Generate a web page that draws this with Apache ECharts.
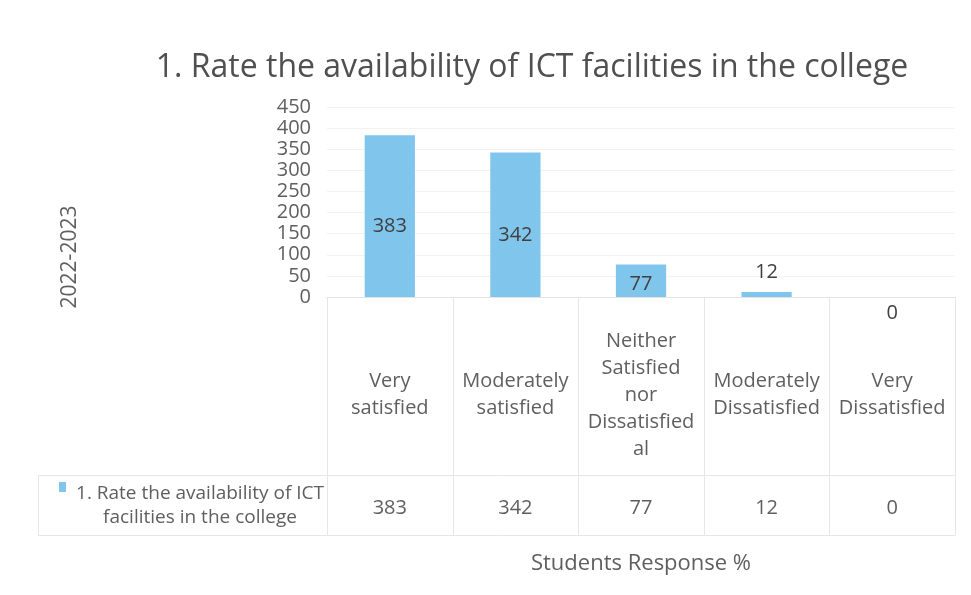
<!DOCTYPE html>
<html><head><meta charset="utf-8">
<script src="https://cdn.jsdelivr.net/npm/echarts@6/dist/echarts.min.js"></script>
<style>html,body{margin:0;padding:0;background:#fff}#c{width:971px;height:595px}</style>
</head><body><div id="c"></div>
<script>
const titleText = '1. Rate the availability of ICT facilities in the college';
const categories = ['Very\nsatisfied', 'Moderately\nsatisfied', 'Neither\nSatisfied\nnor\nDissatisfied\nal', 'Moderately\nDissatisfied', 'Very\nDissatisfied'];
const values = [383, 342, 77, 12, 0];
const seriesName = '1. Rate the availability of ICT\nfacilities in the college';
const yTitle = '2022-2023';
const xTitle = 'Students Response %';
const yMax = 450, yStep = 50;

const FONT = '"Open Sans", Lato, sans-serif';
const TXT = '#5f5f5f';
const BAR = '#80c5ec';
const chart = echarts.init(document.getElementById('c'), null, {renderer: 'canvas'});
const LEFT = 327, RIGHT = 16, TOP = 107, BOTTOM = 298;

chart.setOption({
  animation: false,
  textStyle: {fontFamily: FONT},
  title: {text: titleText, left: 527, top: 47, textAlign: 'center',
    textStyle: {fontFamily: FONT, fontWeight: 'normal', fontSize: 32, color: '#505050'}},
  grid: {left: LEFT, right: RIGHT, top: TOP, bottom: BOTTOM, containLabel: false},
  xAxis: [{
    type: 'category', data: categories, position: 'bottom',
    axisLine: {lineStyle: {color: '#e3e3e3'}}, axisTick: {show: false},
    axisLabel: {interval: 0, margin: 98, verticalAlign: 'middle', lineHeight: 27, fontSize: 20, color: TXT, fontFamily: FONT},
    name: xTitle, nameLocation: 'middle', nameGap: 256,
    nameTextStyle: {fontSize: 22, color: TXT, fontFamily: FONT}
  }, {
    type: 'category', data: values.map(String), position: 'bottom',
    axisLine: {show: false}, axisTick: {show: false},
    axisLabel: {interval: 0, margin: 211, verticalAlign: 'middle', fontSize: 20, color: TXT, fontFamily: FONT}
  }],
  yAxis: {
    type: 'value', min: 0, max: yMax, interval: yStep,
    axisLine: {show: false}, axisTick: {show: false},
    splitLine: {lineStyle: {color: '#f2f2f2'}},
    axisLabel: {margin: 16, fontSize: 20, lineHeight: 20, color: TXT, fontFamily: FONT}
  },
  series: [{
    type: 'bar', name: seriesName, barWidth: '40%', xAxisIndex: 0,
    itemStyle: {color: BAR},
    data: values.map(v => ({
      value: v,
      label: {show: true, position: v < 50 ? (v === 0 ? 'bottom' : 'top') : 'inside',
        distance: v === 0 ? 2 : 14,
        offset: v >= 100 ? [0, 10] : [0, 4],
        fontSize: 20, color: '#404040', fontFamily: FONT}
    }))
  }]
});

function drawTable() {
  const c0 = chart.convertToPixel({xAxisIndex: 0}, 0);
  const c1 = chart.convertToPixel({xAxisIndex: 0}, 1);
  const band = c1 - c0;
  const y0 = chart.convertToPixel({yAxisIndex: 0}, 0);
  const yTop = chart.convertToPixel({yAxisIndex: 0}, yMax);
  const rowSep = y0 + 178, rowEnd = y0 + 238, tableLeft = 38;
  const g = [];
  const ln = (x1, y1, x2, y2) => g.push({type: 'line', silent: true,
    shape: {x1, y1, x2, y2}, style: {stroke: '#e6e6e6', lineWidth: 1}});
  for (let i = 0; i <= categories.length; i++) {
    const x = Math.round(c0 - band / 2 + i * band) + 0.5;
    ln(x, y0, x, rowEnd);
  }
  const right = Math.round(c0 - band / 2 + categories.length * band) + 0.5;
  ln(tableLeft, rowSep + 0.5, right, rowSep + 0.5);
  ln(tableLeft, rowEnd + 0.5, right, rowEnd + 0.5);
  ln(tableLeft + 0.5, rowSep, tableLeft + 0.5, rowEnd);
  g.push({type: 'rect', shape: {x: 59, y: rowSep + 7, width: 7, height: 10}, style: {fill: BAR}});
  g.push({type: 'text', x: 200, y: (rowSep + rowEnd) / 2 + 1, style: {
    text: seriesName, textAlign: 'center', textVerticalAlign: 'middle',
    font: '19px ' + FONT, lineHeight: 24, fill: TXT}});
  g.push({type: 'text', x: 70, y: (yTop + y0) / 2 + 55, rotation: Math.PI / 2,
    style: {text: yTitle, textAlign: 'center', textVerticalAlign: 'middle',
    font: '21px ' + FONT, fill: TXT}});
  chart.setOption({graphic: g});
}
drawTable();
</script></body></html>
